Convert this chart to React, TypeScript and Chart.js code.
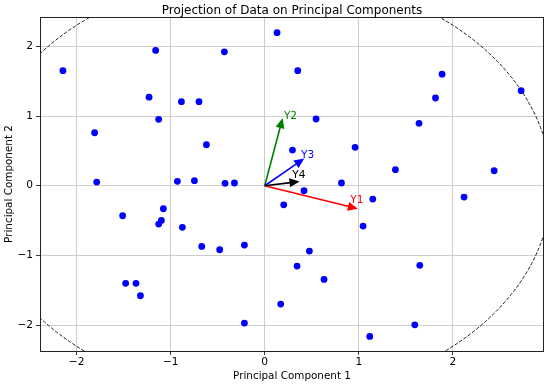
import React, { useEffect, useRef } from 'react';
import { Chart, registerables } from 'chart.js';

Chart.register(...registerables);

// Projected data (PC1, PC2)
const pc1Values = [
  -2.146, -1.16, -0.429, -1.23, -0.886, -0.699, -1.128, -1.809, -0.62, -1.787,
  -0.929, -0.748, -0.422, -0.322, 0.131, 0.351, 1.886, 1.816, 2.727, 0.546,
  1.641, 0.295, 0.961, 1.39, 2.44, 0.816, 0.418, 2.12, 0.202, 1.149,
  1.046, 0.475, 0.344, 1.649, 0.631, 0.17, 1.596, 1.117, -1.511, -1.078,
  -1.099, -1.128, -0.876, -0.67, -0.479, -0.216, -1.479, -1.369, -1.322, -0.216,
];
const pc2Values = [
  1.65, 1.94, 1.92, 1.27, 1.205, 1.205, 0.953, 0.76, 0.588, 0.053,
  0.063, 0.072, 0.034, 0.039, 2.195, 1.65, 1.6, 1.258, 1.363, 0.957,
  0.895, 0.512, 0.551, 0.23, 0.215, 0.039, -0.072, -0.162, -0.273, -0.191,
  -0.578, -0.937, -1.152, -1.142, -1.343, -1.697, -1.994, -2.161, -0.43, -0.33,
  -0.497, -0.55, -0.597, -0.87, -0.918, -0.851, -1.4, -1.4, -1.578, -1.97,
];

const xTicks = [-2, -1, 0, 1, 2];
const yTicks = [-2, -1, 0, 1, 2];
const xLimits = [-2.39, 2.97];
const yLimits = [-2.37, 2.42];
const circleRadius = 3.05;

const chartTitle = 'Projection of Data on Principal Components';
const xTitle = 'Principal Component 1';
const yTitle = 'Principal Component 2';

// Loading vectors
const loadingNames = ['Y1', 'Y2', 'Y3', 'Y4'];
const loadingX = [0.99, 0.19, 0.42, 0.37];
const loadingY = [-0.33, 0.97, 0.39, 0.06];
const loadingLabelX = [0.98, 0.274, 0.455, 0.364];
const loadingLabelY = [-0.205, 0.993, 0.44, 0.153];
const loadingColors = ['#ff0000', '#008000', '#0000ff', '#000000'];

const FONT = '"DejaVu Sans", sans-serif';
const fmt = (v: number) => (v < 0 ? '\u2212' + Math.abs(v) : String(v));

const pcaPlugin = {
  id: 'pcaDecor',
  beforeDatasetsDraw(chart: any) {
    const { ctx, chartArea, scales } = chart;
    const xs = scales.x, ys = scales.y;
    ctx.save();
    ctx.beginPath();
    ctx.rect(chartArea.left, chartArea.top, chartArea.right - chartArea.left, chartArea.bottom - chartArea.top);
    ctx.clip();
    const cx = xs.getPixelForValue(0), cy = ys.getPixelForValue(0);
    const rx = Math.abs(xs.getPixelForValue(circleRadius) - cx);
    const ry = Math.abs(ys.getPixelForValue(circleRadius) - cy);
    ctx.beginPath();
    ctx.ellipse(cx, cy, rx, ry, 0, 0, Math.PI * 2);
    ctx.setLineDash([3.5, 1.8]);
    ctx.lineWidth = 0.9;
    ctx.strokeStyle = '#000';
    ctx.stroke();
    ctx.restore();
  },
  afterDatasetsDraw(chart: any) {
    const { ctx, scales } = chart;
    const xs = scales.x, ys = scales.y;
    const x0 = xs.getPixelForValue(0), y0 = ys.getPixelForValue(0);
    ctx.save();
    loadingNames.forEach((name, i) => {
      const x1 = xs.getPixelForValue(loadingX[i]);
      const y1 = ys.getPixelForValue(loadingY[i]);
      const dx = x1 - x0, dy = y1 - y0;
      const len = Math.hypot(dx, dy);
      const ux = dx / len, uy = dy / len;
      const hl = 10, hw = 4.5;
      const bx = x1 - ux * hl, by = y1 - uy * hl;
      ctx.strokeStyle = loadingColors[i];
      ctx.fillStyle = loadingColors[i];
      ctx.lineWidth = 1.6;
      ctx.beginPath();
      ctx.moveTo(x0, y0);
      ctx.lineTo(bx + ux * 1, by + uy * 1);
      ctx.stroke();
      ctx.beginPath();
      ctx.moveTo(x1, y1);
      ctx.lineTo(bx - uy * hw, by + ux * hw);
      ctx.lineTo(bx + uy * hw, by - ux * hw);
      ctx.closePath();
      ctx.fill();
      ctx.font = `10.6px ${FONT}`;
      ctx.textAlign = 'center';
      ctx.textBaseline = 'middle';
      ctx.fillText(name, xs.getPixelForValue(loadingLabelX[i]), ys.getPixelForValue(loadingLabelY[i]));
    });
    ctx.restore();
  },
  afterDraw(chart: any) {
    const { ctx, chartArea } = chart;
    ctx.save();
    ctx.strokeStyle = '#222';
    ctx.lineWidth = 1;
    ctx.strokeRect(Math.round(chartArea.left) + 0.5, Math.round(chartArea.top) + 0.5,
      Math.round(chartArea.right - chartArea.left) - 1, Math.round(chartArea.bottom - chartArea.top));
    ctx.font = `12px ${FONT}`;
    ctx.fillStyle = '#000';
    ctx.textAlign = 'center';
    ctx.textBaseline = 'alphabetic';
    ctx.fillText(chartTitle, (chartArea.left + chartArea.right) / 2, 14);
    ctx.restore();
  },
};

export default function App() {
  const ref = useRef<HTMLCanvasElement | null>(null);
  useEffect(() => {
    if (!ref.current) return;
    const points = pc1Values.map((x, i) => ({ x, y: pc2Values[i] }));
    const tickFont = { family: FONT, size: 10.6 };
    const labelFont = { family: FONT, size: 10.4 };
    const chart = new Chart(ref.current, {
      type: 'scatter',
      data: {
        datasets: [
          {
            data: points,
            backgroundColor: '#0000ff',
            borderWidth: 0,
            pointRadius: 3.4,
          },
        ],
      },
      options: {
        animation: false,
        responsive: false,
        maintainAspectRatio: false,
        layout: { padding: { left: 0, right: 6, top: 17, bottom: 0 } },
        plugins: {
          legend: { display: false },
          tooltip: { enabled: false },
          title: { display: false },
        },
        scales: {
          x: {
            type: 'linear',
            position: 'bottom',
            min: xLimits[0],
            max: xLimits[1],
            afterBuildTicks: (s: any) => { s.ticks = xTicks.map((v) => ({ value: v })); },
            afterFit: (s: any) => { s.height = 38; },
            grid: { color: '#c8c8c8', lineWidth: 0.9, tickColor: '#222', tickLength: 4, drawTicks: true },
            border: { display: false },
            ticks: { color: '#000', font: tickFont, padding: 1, maxRotation: 0, callback: (v: any) => fmt(Number(v)) },
            title: { display: true, text: xTitle, color: '#000', font: labelFont, padding: { top: 0, bottom: 6.5 } },
          },
          y: {
            type: 'linear',
            position: 'left',
            min: yLimits[0],
            max: yLimits[1],
            afterBuildTicks: (s: any) => { s.ticks = yTicks.map((v) => ({ value: v })); },
            afterFit: (s: any) => { s.width = 40; },
            grid: { color: '#c8c8c8', lineWidth: 0.9, tickColor: '#222', tickLength: 4, drawTicks: true },
            border: { display: false },
            ticks: { color: '#000', font: tickFont, padding: 3, callback: (v: any) => fmt(Number(v)) },
            title: { display: true, text: yTitle, color: '#000', font: labelFont, padding: { top: 3.5, bottom: 0 } },
          },
        },
      },
      plugins: [pcaPlugin],
    } as any);
    return () => chart.destroy();
  }, []);
  return (
    <div style={{ position: 'fixed', left: 0, top: 0, width: 550, height: 389, background: '#fff' }}>
      <canvas ref={ref} width={550} height={389} style={{ width: 550, height: 389 }} />
    </div>
  );
}
